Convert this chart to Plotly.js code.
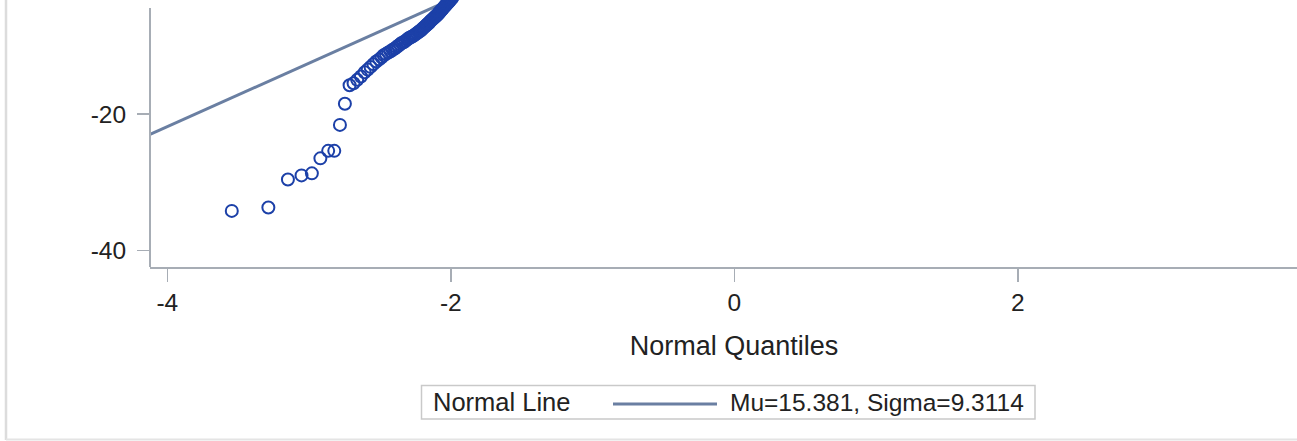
<!DOCTYPE html>
<html>
<head>
<meta charset="utf-8">
<script src="https://cdn.plot.ly/plotly-3.0.1.min.js"></script>
<style>
html, body { margin: 0; padding: 0; background: #ffffff; overflow: hidden; }
#chart { width: 1318px; height: 441px; }
</style>
</head>
<body>
<div id="chart"></div>
<script>
// Normal quantiles (x) of the lowest ordered observations that are visible
var quantiles = [
  -3.545, -3.287, -3.149, -3.053, -2.98, -2.92, -2.865, -2.822, -2.782, -2.747,
  -2.714, -2.686, -2.66, -2.634, -2.608, -2.586, -2.566, -2.546, -2.526, -2.505,
  -2.488, -2.473, -2.457, -2.441, -2.425, -2.41, -2.395, -2.383, -2.37, -2.358,
  -2.346, -2.333, -2.321, -2.308, -2.297, -2.287, -2.277, -2.267, -2.258, -2.248,
  -2.238, -2.228, -2.218, -2.208, -2.199, -2.191, -2.183, -2.175, -2.167, -2.159,
  -2.151, -2.144, -2.136, -2.128, -2.12, -2.112, -2.104, -2.097, -2.09, -2.084,
  -2.078, -2.071, -2.065, -2.058, -2.052, -2.046, -2.039, -2.033, -2.027, -2.02,
  -2.014, -2.007, -2.001, -1.995, -1.989
];
// Ordered observed values (y)
var observed = [
  -34.2, -33.7, -29.6, -29.0, -28.7, -26.5, -25.4, -25.4, -21.6, -18.5,
  -15.8, -15.5, -15.0, -14.5, -13.9, -13.5, -13.1, -12.7, -12.3, -12.0,
  -11.7, -11.4, -11.2, -11.0, -10.8, -10.6, -10.4, -10.2, -10.0, -9.8,
  -9.6, -9.5, -9.3, -9.1, -8.9, -8.8, -8.7, -8.6, -8.45, -8.3,
  -8.15, -8.0, -7.85, -7.7, -7.5, -7.35, -7.2, -7.05, -6.9, -6.75,
  -6.6, -6.4, -6.25, -6.1, -5.95, -5.8, -5.65, -5.5, -5.35, -5.2,
  -5.05, -4.9, -4.75, -4.6, -4.45, -4.3, -4.15, -4.0, -3.85, -3.7,
  -3.55, -3.4, -3.25, -3.1, -2.95
];
// Normal reference line parameters
var mu = 15.381;
var sigma = 9.3114;
var mu_label = "15.381";
var sigma_label = "9.3114";

var xTickVals = [-4, -2, 0, 2];
var xTickText = ["-4", "-2", "0", "2"];
var yTickVals = [-40, -20];
var yTickText = ["-40", "-20"];

var xRange = [-4.122, 4.118];
var yRange = [-42.42, -3.30];

var FONT = "Liberation Sans, Arial, sans-serif";
var TEXT = "#222222";
var lineColor = "#6A7FA2";
var markerColor = "#1C40A8";
var axisColor = "#A7ADB5";

var W = 1318, H = 441, ML = 150, MR = 0, MT = 0, MB = 174;
var PW = W - ML - MR, PH = H - MT - MB;
function px(xp) { return (xp - ML) / PW; }
function py(yp) { return (H - MB - yp) / PH; }

var normalLine = {
  x: xRange,
  y: xRange.map(function (q) { return mu + sigma * q; }),
  mode: "lines",
  line: { color: lineColor, width: 3 },
  hoverinfo: "skip",
  showlegend: false
};

var points = {
  x: quantiles,
  y: observed,
  mode: "markers",
  marker: {
    symbol: "circle-open",
    size: 12,
    color: markerColor,
    line: { color: markerColor, width: 2 }
  },
  showlegend: false
};

var layout = {
  width: W,
  height: H,
  margin: { l: ML, r: MR, t: MT, b: MB, pad: 0 },
  paper_bgcolor: "#ffffff",
  plot_bgcolor: "#ffffff",
  font: { family: FONT, size: 24, color: TEXT },
  showlegend: false,
  xaxis: {
    range: xRange,
    tickvals: xTickVals,
    ticktext: xTickText,
    ticks: "outside",
    ticklen: 13,
    tickwidth: 1.5,
    tickcolor: axisColor,
    showline: true,
    linecolor: axisColor,
    linewidth: 2,
    showgrid: false,
    zeroline: false,
    tickfont: { family: FONT, size: 24.5, color: TEXT },
    title: { text: "Normal Quantiles", font: { family: FONT, size: 27, color: TEXT }, standoff: 21 },
    automargin: false,
    fixedrange: true
  },
  yaxis: {
    range: yRange,
    tickvals: yTickVals,
    ticktext: yTickText,
    ticks: "outside",
    ticklen: 12,
    tickwidth: 1.5,
    tickcolor: axisColor,
    ticklabelstandoff: 6,
    showline: false,
    showgrid: false,
    zeroline: false,
    tickfont: { family: FONT, size: 24.5, color: TEXT },
    automargin: false,
    fixedrange: true
  },
  shapes: [
    { type: "line", xref: "paper", yref: "paper", x0: 0, x1: 0, y0: 0, y1: py(8),
      line: { color: axisColor, width: 2 } },
    { type: "line", xref: "paper", yref: "paper", x0: px(6), x1: px(6), y0: py(440), y1: py(-5),
      line: { color: "#DCDCDC", width: 2.5 } },
    { type: "line", xref: "paper", yref: "paper", x0: px(6), x1: px(1330), y0: py(439.5), y1: py(439.5),
      line: { color: "#E4E4E4", width: 2 } },
    { type: "rect", xref: "paper", yref: "paper", x0: px(421.5), x1: px(1035), y0: py(419), y1: py(385.5),
      line: { color: "#C9C9C9", width: 1.5 }, fillcolor: "rgba(0,0,0,0)" },
    { type: "line", xref: "paper", yref: "paper", x0: px(613), x1: px(717), y0: py(404), y1: py(404),
      line: { color: lineColor, width: 3 } }
  ],
  annotations: [
    { xref: "paper", yref: "paper", x: px(431), y: py(402), xanchor: "left", yanchor: "middle",
      text: "Normal Line", showarrow: false, font: { family: FONT, size: 25.5, color: TEXT } },
    { xref: "paper", yref: "paper", x: px(728), y: py(402), xanchor: "left", yanchor: "middle",
      text: "Mu=" + mu_label + ", Sigma=" + sigma_label, showarrow: false,
      font: { family: FONT, size: 24.5, color: TEXT } }
  ]
};

Plotly.newPlot("chart", [normalLine, points], layout, { displayModeBar: false, staticPlot: true });
</script>
</body>
</html>
